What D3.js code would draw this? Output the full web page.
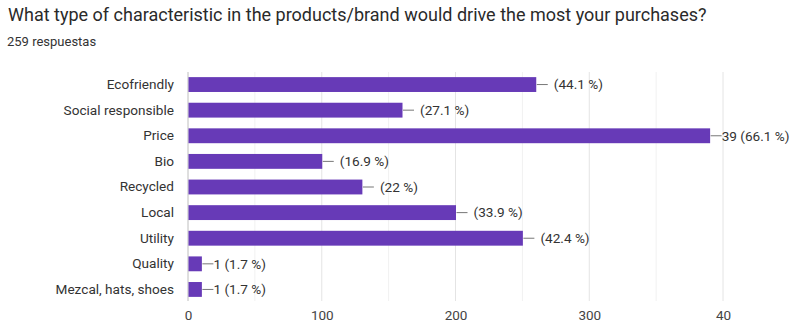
<!DOCTYPE html>
<html>
<head>
	<meta charset="utf-8">
	<script src="https://d3js.org/d3.v7.min.js"></script>
	<title>Characteristics chart</title>
	<style>
		body { margin: 0; background: #fff; }
		text { font-family: Roboto, Arial, sans-serif; }
	</style>
</head>
<body>
	<div id="chart"></div>

	<script type="text/javascript">
		// data
		var title = "What type of characteristic in the products/brand would drive the most your purchases?";
		var subtitle = "259 respuestas";
		var categories = ["Ecofriendly", "Social responsible", "Price", "Bio", "Recycled",
			"Local", "Utility", "Quality", "Mezcal, hats, shoes"];
		var counts = [26, 16, 39, 10, 13, 20, 25, 1, 1];
		var valueLabels = ["(44.1 %)", "(27.1 %)", "39 (66.1 %)", "(16.9 %)", "(22 %)",
			"(33.9 %)", "(42.4 %)", "1 (1.7 %)", "1 (1.7 %)"];
		var tickValues = [0, 10, 20, 30, 40];
		var tickLabels = ["0", "100", "200", "300", "40"];

		var svgwidth = 796;
		var svgheight = 324;
		var labelFont = "'Liberation Sans', Arial, sans-serif";

		var svg = d3.select("#chart").append("svg")
			.attr("width", svgwidth)
			.attr("height", svgheight);

		svg.append("text")
			.attr("x", 8)
			.attr("y", 21)
			.attr("font-size", 18)
			.attr("fill", "#2a2a2a")
			.text(title);

		svg.append("text")
			.attr("x", 7)
			.attr("y", 46)
			.attr("font-size", 13)
			.attr("fill", "#333")
			.text(subtitle);

		var xScale = d3.scaleLinear()
			.domain([0, 40])
			.range([188, 723]);

		var yScale = d3.scaleBand()
			.domain(categories)
			.range([72, 302])
			.paddingInner(0.42)
			.paddingOuter(0.2);

		// grid lines
		svg.append("g").selectAll("line")
			.data(d3.range(0, 41, 5))
			.enter().append("line")
			.attr("x1", function(d){ return xScale(d); })
			.attr("x2", function(d){ return xScale(d); })
			.attr("y1", 72)
			.attr("y2", 301)
			.attr("stroke", function(d){ return d % 10 == 0 ? "#e4e4e4" : "#f1f1f1"; })
			.attr("stroke-width", 1);

		// x axis
		var xAxis = d3.axisBottom(xScale)
			.tickValues(tickValues)
			.tickFormat(function(d, i){ return tickLabels[i]; })
			.tickSize(0)
			.tickPadding(9);

		var gx = svg.append("g")
			.attr("transform", "translate(0,301)")
			.call(xAxis);
		gx.select(".domain").remove();
		gx.selectAll("text")
			.attr("font-size", 13.5)
			.attr("font-family", labelFont)
			.attr("fill", "#444");

		// y axis labels
		var yAxis = d3.axisLeft(yScale).tickSize(0).tickPadding(14);
		var gy = svg.append("g")
			.attr("transform", "translate(188,0)")
			.call(yAxis);
		gy.select(".domain").remove();
		gy.selectAll("text")
			.attr("font-size", 13.6)
			.attr("font-family", labelFont)
			.attr("fill", "#333");

		// baseline
		svg.append("line")
			.attr("x1", xScale(0)).attr("x2", xScale(0))
			.attr("y1", 72).attr("y2", 301)
			.attr("stroke", "#ccc");

		var rows = categories.map(function(c, i){
			return { name: c, value: counts[i], label: valueLabels[i] };
		});

		svg.selectAll(".bar")
			.data(rows).enter().append("rect")
			.attr("class", "bar")
			.attr("x", xScale(0) + 0.5)
			.attr("y", function(d){ return yScale(d.name); })
			.attr("width", function(d){ return xScale(d.value) - xScale(0); })
			.attr("height", yScale.bandwidth())
			.attr("fill", "#673ab7");

		// leader lines
		svg.selectAll(".lead")
			.data(rows).enter().append("line")
			.attr("class", "lead")
			.attr("x1", function(d){ return xScale(d.value) + 1; })
			.attr("x2", function(d){ return xScale(d.value) + 12; })
			.attr("y1", function(d){ return yScale(d.name) + yScale.bandwidth() / 2; })
			.attr("y2", function(d){ return yScale(d.name) + yScale.bandwidth() / 2; })
			.attr("stroke", "#777")
			.attr("stroke-width", 1);

		svg.selectAll(".vlabel")
			.data(rows).enter().append("text")
			.attr("class", "vlabel")
			.attr("x", function(d){
				return xScale(d.value) + (d.label[0] == "(" ? 18 : 12);
			})
			.attr("y", function(d){ return yScale(d.name) + yScale.bandwidth() / 2; })
			.attr("dy", "0.35em")
			.attr("font-size", 13.6)
			.attr("font-family", labelFont)
			.attr("fill", "#333")
			.text(function(d){ return d.label; });
	</script>
</body>
</html>
